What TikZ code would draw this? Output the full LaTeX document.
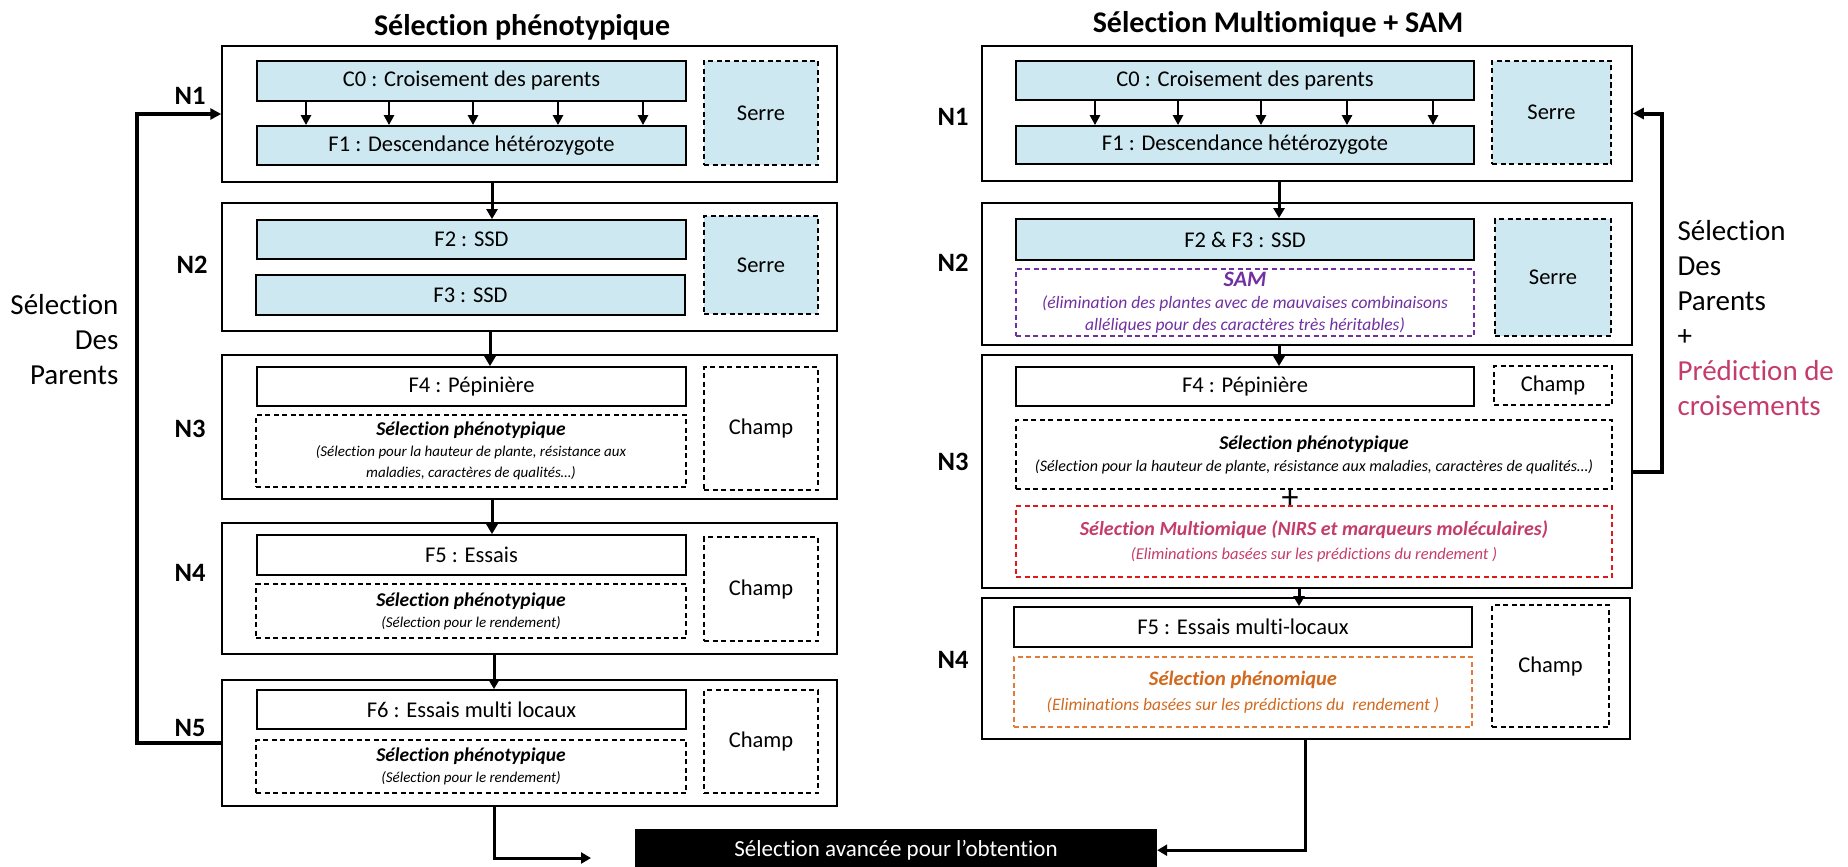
\documentclass[tikz,border=0pt]{standalone}
\usepackage{fontspec}
\setmainfont{Carlito}[Ligatures=NoCommon]
\usetikzlibrary{arrows.meta}
\definecolor{skyfill}{HTML}{CDE8F0}
\definecolor{samviolet}{HTML}{7030A0}
\definecolor{omicred}{HTML}{E01818}
\definecolor{omicpink}{HTML}{C43C6C}
\definecolor{phenoborder}{HTML}{E07B39}
\definecolor{phenotext}{HTML}{D2691E}

\begin{document}
\begin{tikzpicture}[x=1pt,y=-1pt,font=\fontsize{22.5}{26}\selectfont,
  stage/.style={draw,line width=1.5pt,inner sep=0pt},
  genbox/.style={draw,line width=1.8pt,inner sep=0pt},
  dashbox/.style={draw,line width=1.3pt,dash pattern=on 5pt off 3.5pt,inner sep=0pt,align=center},
  lvl/.style={font=\bfseries\fontsize{26.5}{30}\selectfont},
  title/.style={font=\bfseries\fontsize{30}{36}\selectfont},
  note/.style={font=\itshape\fontsize{15}{21}\selectfont},
  flow/.style={line width=3pt,-{Triangle[length=10pt,width=11pt]}},
  cross/.style={line width=2.6pt,-{Triangle[length=10pt,width=10pt]}},
  loop/.style={line width=4pt,-{Triangle[length=11pt,width=11pt]}}]
  \useasboundingbox (0,0) rectangle (1848,867);

  % titles
  \node[title] (tL) at (522,27) {Sélection phénotypique};
  \node[title] (tR) at (1278,24) {Sélection Multiomique + SAM};

  % left column: phenotypic selection
  \node[stage,minimum width=615pt,minimum height=136pt] (L1) at (529.5,114) {};
  \node[genbox,fill=skyfill,minimum width=429pt,minimum height=40pt] (c0L) at (471.5,81) {C0 : Croisement des parents};
  \node[genbox,fill=skyfill,minimum width=429pt,minimum height=39pt] (f1L) at (471.5,145.5) {F1 : Descendance hétérozygote};
  \node[dashbox,fill=skyfill,minimum width=114pt,minimum height=104pt] (serreL1) at (761,113) {Serre};

  \node[stage,minimum width=615pt,minimum height=128pt] (L2) at (529.5,267) {};
  \node[genbox,fill=skyfill,minimum width=429pt,minimum height=39pt] (f2L) at (471.5,239.5) {F2 : SSD};
  \node[genbox,fill=skyfill,minimum width=429pt,minimum height=40pt] (f3L) at (470.5,295) {F3 : SSD};
  \node[dashbox,fill=skyfill,minimum width=114pt,minimum height=98pt] (serreL2) at (761,265) {Serre};

  \node[stage,minimum width=615pt,minimum height=144pt] (L3) at (529.5,427) {};
  \node[genbox,minimum width=429pt,minimum height=39pt] (f4L) at (471.5,386.5) {F4 : Pépinière};
  \node[dashbox,note,minimum width=430pt,minimum height=72pt] (selL3) at (471,451)
    {\textbf{\fontsize{19.5}{21}\selectfont Sélection phénotypique}\\(Sélection pour la hauteur de plante, résistance aux\\maladies, caractères de qualités…)};
  \node[dashbox,minimum width=114pt,minimum height=123pt] (champL3) at (761,428.5) {Champ};

  \node[stage,minimum width=615pt,minimum height=131pt] (L4) at (529.5,588.5) {};
  \node[genbox,minimum width=429pt,minimum height=40pt] (f5L) at (471.5,555) {F5 : Essais};
  \node[dashbox,note,minimum width=430pt,minimum height=54pt] (selL4) at (471,611)
    {\textbf{\fontsize{19.5}{21}\selectfont Sélection phénotypique}\\(Sélection pour le rendement)};
  \node[dashbox,minimum width=114pt,minimum height=104pt] (champL4) at (761,589) {Champ};

  \node[stage,minimum width=615pt,minimum height=126pt] (L5) at (529.5,743) {};
  \node[genbox,minimum width=429pt,minimum height=39pt] (f6L) at (471.5,709.5) {F6 : Essais multi locaux};
  \node[dashbox,note,minimum width=430pt,minimum height=53pt] (selL5) at (471,766.5)
    {\textbf{\fontsize{19.5}{21}\selectfont Sélection phénotypique}\\(Sélection pour le rendement)};
  \node[dashbox,minimum width=114pt,minimum height=103pt] (champL5) at (761,741.5) {Champ};

  \node[lvl] (nL1) at (190,96) {N1};
  \node[lvl] (nL2) at (192,265) {N2};
  \node[lvl] (nL3) at (190,429) {N3};
  \node[lvl] (nL4) at (190,573) {N4};
  \node[lvl] (nL5) at (190,728) {N5};
  \node[anchor=east,align=right,font=\fontsize{29}{35}\selectfont] (parL) at (122,340) {Sélection\\Des\\Parents};

  % right column: multiomic selection + SAM
  \node[stage,minimum width=650pt,minimum height=135pt] (R1) at (1307,113.5) {};
  \node[genbox,fill=skyfill,minimum width=458pt,minimum height=39pt] (c0R) at (1245,80.5) {C0 : Croisement des parents};
  \node[genbox,fill=skyfill,minimum width=458pt,minimum height=38pt] (f1R) at (1245,145) {F1 : Descendance hétérozygote};
  \node[dashbox,fill=skyfill,minimum width=119pt,minimum height=103pt] (serreR1) at (1551.5,112.5) {Serre};

  \node[stage,minimum width=650pt,minimum height=142pt] (R2) at (1307,274) {};
  \node[genbox,fill=skyfill,minimum width=458pt,minimum height=41pt] (f23R) at (1245,239.5) {F2 \& F3 : SSD};
  \node[dashbox,note,font=\itshape\fontsize{17.5}{22}\selectfont,draw=samviolet,text=samviolet,minimum width=458pt,minimum height=67pt] (samR) at (1245,302.5)
    {\textbf{\fontsize{22}{22}\selectfont SAM}\\(élimination des plantes avec de mauvaises combinaisons\\alléliques pour des caractères très héritables)};
  \node[dashbox,fill=skyfill,minimum width=116pt,minimum height=117pt] (serreR2) at (1553,277.5) {Serre};

  \node[stage,minimum width=650pt,minimum height=233pt] (R3) at (1307,471.5) {};
  \node[genbox,minimum width=458pt,minimum height=39pt] (f4R) at (1245,386.5) {F4 : Pépinière};
  \node[dashbox,minimum width=118pt,minimum height=39pt] (champR3) at (1553,385.5) {Champ};
  \node[dashbox,note,font=\itshape\fontsize{16}{22}\selectfont,minimum width=596pt,minimum height=69pt] (selR3) at (1314,454.5)
    {\textbf{\fontsize{19.5}{24}\selectfont Sélection phénotypique}\\(Sélection pour la hauteur de plante, résistance aux maladies, caractères de qualités…)};
  \node[font=\fontsize{34}{34}\selectfont] (plus) at (1290,499) {+};
  \node[dashbox,note,font=\itshape\fontsize{16.5}{24}\selectfont,draw=omicred,text=omicpink,minimum width=596pt,minimum height=71pt] (omicR) at (1314,541.5)
    {\textbf{\fontsize{20}{24}\selectfont Sélection Multiomique (NIRS et marqueurs moléculaires)}\\(Eliminations basées sur les prédictions du rendement )};

  \node[stage,minimum width=648pt,minimum height=141pt] (R4) at (1306,668.5) {};
  \node[genbox,minimum width=458pt,minimum height=40pt] (f5R) at (1243,627) {F5 : Essais multi-locaux};
  \node[dashbox,note,font=\itshape\fontsize{17.5}{25}\selectfont,draw=phenoborder,text=phenotext,minimum width=458pt,minimum height=70pt] (phenoR) at (1243,692)
    {\textbf{\fontsize{20.5}{25}\selectfont Sélection phénomique}\\(Eliminations basées sur les prédictions du \ rendement )};
  \node[dashbox,minimum width=117pt,minimum height=122pt] (champR4) at (1550.5,666) {Champ};

  \node[lvl] (nR1) at (953,117) {N1};
  \node[lvl] (nR2) at (953,263) {N2};
  \node[lvl] (nR3) at (953,462) {N3};
  \node[lvl] (nR4) at (953,660) {N4};
  \node[anchor=west,align=left,font=\fontsize{29}{35}\selectfont] (parR) at (1674,318)
    {Sélection\\Des\\Parents\\+\\\textcolor{omicpink}{Prédiction de}\\\textcolor{omicpink}{croisements}};

  % outcome
  \node[fill=black,text=white,font=\fontsize{23}{26}\selectfont,minimum width=522pt,minimum height=42pt,inner sep=0pt,anchor=north] (final) at (896,829) {Sélection avancée pour l’obtention};
  \coordinate (outL) at (591,858);

  % crosses inside N1
  \foreach \x in {306,389,473,558,643}
    \draw[cross] (\x,0 |- c0L.south) -- (\x,0 |- f1L.north);
  \foreach \x in {1095,1178,1261,1347,1433}
    \draw[cross] (\x,0 |- c0R.south) -- (\x,0 |- f1R.north);

  % flow between levels
  \draw[flow] (492,0 |- L1.south) -- (492,0 |- f2L.north);
  \draw[flow] (490,0 |- L2.south) -- (490,0 |- f4L.north);
  \draw[flow] (492,0 |- L3.south) -- (492,0 |- f5L.north);
  \draw[flow] (494,0 |- L4.south) -- (494,0 |- f6L.north);
  \draw[flow] (494,0 |- L5.south) |- (outL);
  \draw[flow] (1279,0 |- R1.south) -- (1279,0 |- f23R.north);
  \draw[flow] (1279,0 |- R2.south) -- (1279,0 |- f4R.north);
  \draw[flow] (1299,0 |- R3.south) -- (1299,0 |- f5R.north);
  \draw[flow] (1305,0 |- R4.south) |- (final.east);

  % parent selection loops
  \draw[loop] (L5.west) -- ++(-84,0) |- (L1.west);
  \draw[loop] (R3.east) -- ++(29,0) |- (R1.east);
\end{tikzpicture}
\end{document}
